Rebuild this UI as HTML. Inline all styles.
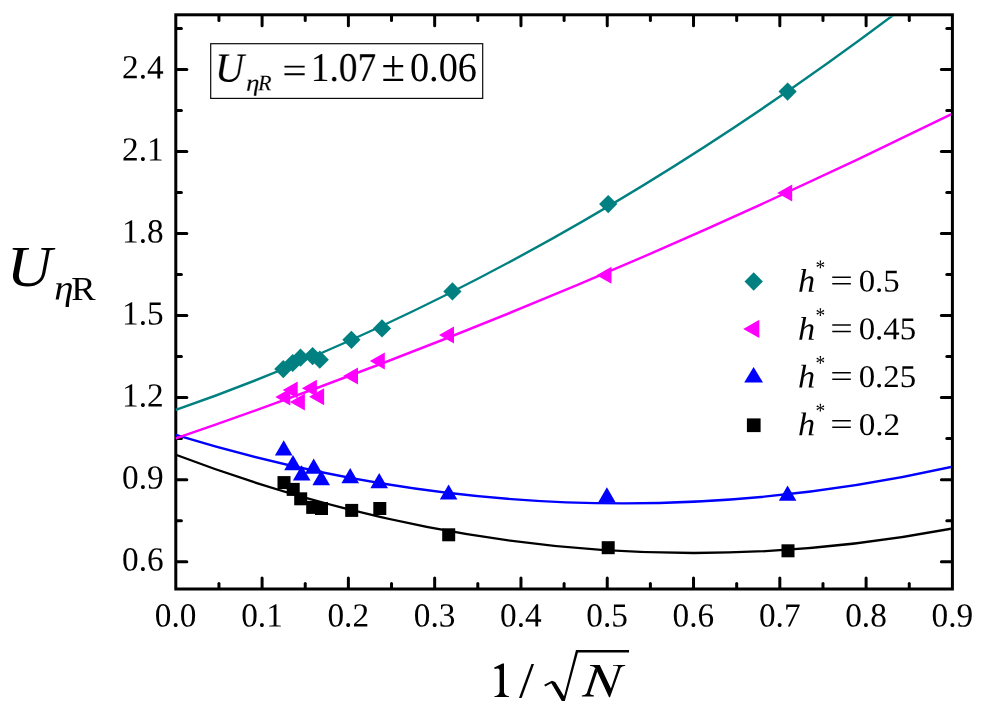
<!DOCTYPE html>
<html><head><meta charset="utf-8"><title>chart</title>
<style>html,body{margin:0;padding:0;background:#fff;overflow:hidden;}svg{display:block;position:absolute;left:0;top:0;font-family:"Liberation Serif",serif;}text{font-family:"Liberation Serif",serif;fill:#000;}.tx{filter:grayscale(1);}</style></head><body>
<svg width="986" height="722" viewBox="0 0 986 722">
<rect width="986" height="722" fill="#fff"/>
<rect x="175.8" y="14.8" width="776.60" height="574.20" fill="none" stroke="#000" stroke-width="3.0" stroke-linejoin="miter"/>
<g stroke="#000" stroke-width="3.0" stroke-linecap="round">
<line x1="218.94" y1="588.4" x2="218.94" y2="583.4"/>
<line x1="218.94" y1="15.4" x2="218.94" y2="20.4"/>
<line x1="262.09" y1="588.4" x2="262.09" y2="578.0"/>
<line x1="262.09" y1="15.4" x2="262.09" y2="25.8"/>
<line x1="305.23" y1="588.4" x2="305.23" y2="583.4"/>
<line x1="305.23" y1="15.4" x2="305.23" y2="20.4"/>
<line x1="348.38" y1="588.4" x2="348.38" y2="578.0"/>
<line x1="348.38" y1="15.4" x2="348.38" y2="25.8"/>
<line x1="391.52" y1="588.4" x2="391.52" y2="583.4"/>
<line x1="391.52" y1="15.4" x2="391.52" y2="20.4"/>
<line x1="434.67" y1="588.4" x2="434.67" y2="578.0"/>
<line x1="434.67" y1="15.4" x2="434.67" y2="25.8"/>
<line x1="477.81" y1="588.4" x2="477.81" y2="583.4"/>
<line x1="477.81" y1="15.4" x2="477.81" y2="20.4"/>
<line x1="520.96" y1="588.4" x2="520.96" y2="578.0"/>
<line x1="520.96" y1="15.4" x2="520.96" y2="25.8"/>
<line x1="564.10" y1="588.4" x2="564.10" y2="583.4"/>
<line x1="564.10" y1="15.4" x2="564.10" y2="20.4"/>
<line x1="607.24" y1="588.4" x2="607.24" y2="578.0"/>
<line x1="607.24" y1="15.4" x2="607.24" y2="25.8"/>
<line x1="650.39" y1="588.4" x2="650.39" y2="583.4"/>
<line x1="650.39" y1="15.4" x2="650.39" y2="20.4"/>
<line x1="693.53" y1="588.4" x2="693.53" y2="578.0"/>
<line x1="693.53" y1="15.4" x2="693.53" y2="25.8"/>
<line x1="736.68" y1="588.4" x2="736.68" y2="583.4"/>
<line x1="736.68" y1="15.4" x2="736.68" y2="20.4"/>
<line x1="779.82" y1="588.4" x2="779.82" y2="578.0"/>
<line x1="779.82" y1="15.4" x2="779.82" y2="25.8"/>
<line x1="822.97" y1="588.4" x2="822.97" y2="583.4"/>
<line x1="822.97" y1="15.4" x2="822.97" y2="20.4"/>
<line x1="866.11" y1="588.4" x2="866.11" y2="578.0"/>
<line x1="866.11" y1="15.4" x2="866.11" y2="25.8"/>
<line x1="909.26" y1="588.4" x2="909.26" y2="583.4"/>
<line x1="909.26" y1="15.4" x2="909.26" y2="20.4"/>
<line x1="176.4" y1="561.66" x2="186.8" y2="561.66"/>
<line x1="951.8" y1="561.66" x2="941.4" y2="561.66"/>
<line x1="176.4" y1="520.64" x2="181.4" y2="520.64"/>
<line x1="951.8" y1="520.64" x2="946.8" y2="520.64"/>
<line x1="176.4" y1="479.63" x2="186.8" y2="479.63"/>
<line x1="951.8" y1="479.63" x2="941.4" y2="479.63"/>
<line x1="176.4" y1="438.61" x2="181.4" y2="438.61"/>
<line x1="951.8" y1="438.61" x2="946.8" y2="438.61"/>
<line x1="176.4" y1="397.60" x2="186.8" y2="397.60"/>
<line x1="951.8" y1="397.60" x2="941.4" y2="397.60"/>
<line x1="176.4" y1="356.59" x2="181.4" y2="356.59"/>
<line x1="951.8" y1="356.59" x2="946.8" y2="356.59"/>
<line x1="176.4" y1="315.57" x2="186.8" y2="315.57"/>
<line x1="951.8" y1="315.57" x2="941.4" y2="315.57"/>
<line x1="176.4" y1="274.56" x2="181.4" y2="274.56"/>
<line x1="951.8" y1="274.56" x2="946.8" y2="274.56"/>
<line x1="176.4" y1="233.54" x2="186.8" y2="233.54"/>
<line x1="951.8" y1="233.54" x2="941.4" y2="233.54"/>
<line x1="176.4" y1="192.53" x2="181.4" y2="192.53"/>
<line x1="951.8" y1="192.53" x2="946.8" y2="192.53"/>
<line x1="176.4" y1="151.51" x2="186.8" y2="151.51"/>
<line x1="951.8" y1="151.51" x2="941.4" y2="151.51"/>
<line x1="176.4" y1="110.50" x2="181.4" y2="110.50"/>
<line x1="951.8" y1="110.50" x2="946.8" y2="110.50"/>
<line x1="176.4" y1="69.49" x2="186.8" y2="69.49"/>
<line x1="951.8" y1="69.49" x2="941.4" y2="69.49"/>
<line x1="176.4" y1="28.47" x2="181.4" y2="28.47"/>
<line x1="951.8" y1="28.47" x2="946.8" y2="28.47"/>
</g>
<defs><clipPath id="cp"><rect x="174.80" y="16.30" width="776.10" height="572.70"/></clipPath></defs>
<g clip-path="url(#cp)" fill="none" stroke-linecap="butt" stroke-linejoin="round">
<path d="M175.80,454.75 Q564.10,602.03 952.40,528.50" stroke="#000000" stroke-width="2.3"/>
<path d="M175.80,434.90 Q564.10,553.57 952.40,466.71" stroke="#0000ff" stroke-width="2.3"/>
<path d="M175.80,438.37 Q564.10,304.97 952.40,113.76" stroke="#ff00ff" stroke-width="2.4"/>
<path d="M175.80,409.99 Q564.10,273.95 952.40,-30.28" stroke="#008080" stroke-width="2.4"/>
</g>
<g>
<rect x="277.5" y="476.1" width="13.0" height="13.0" fill="#000"/>
<rect x="286.7" y="482.9" width="13.0" height="13.0" fill="#000"/>
<rect x="294.2" y="492.3" width="13.0" height="13.0" fill="#000"/>
<rect x="306.2" y="500.9" width="13.0" height="13.0" fill="#000"/>
<rect x="315.0" y="502.0" width="13.0" height="13.0" fill="#000"/>
<rect x="345.2" y="503.9" width="13.0" height="13.0" fill="#000"/>
<rect x="373.3" y="502.0" width="13.0" height="13.0" fill="#000"/>
<rect x="442.2" y="528.3" width="13.0" height="13.0" fill="#000"/>
<rect x="601.7" y="541.2" width="13.0" height="13.0" fill="#000"/>
<rect x="781.5" y="544.3" width="13.0" height="13.0" fill="#000"/>
<polygon points="283.7,440.2 292.5,455.4 274.9,455.4" fill="#0000ff"/>
<polygon points="293.0,455.0 301.8,470.2 284.2,470.2" fill="#0000ff"/>
<polygon points="301.7,465.2 310.5,480.4 292.9,480.4" fill="#0000ff"/>
<polygon points="313.7,458.5 322.5,473.7 304.9,473.7" fill="#0000ff"/>
<polygon points="321.2,470.0 330.0,485.2 312.4,485.2" fill="#0000ff"/>
<polygon points="350.2,468.0 359.0,483.2 341.4,483.2" fill="#0000ff"/>
<polygon points="379.2,473.1 388.0,488.3 370.4,488.3" fill="#0000ff"/>
<polygon points="448.6,484.4 457.4,499.6 439.8,499.6" fill="#0000ff"/>
<polygon points="606.9,487.2 615.7,502.4 598.1,502.4" fill="#0000ff"/>
<polygon points="787.6,485.6 796.4,500.8 778.8,500.8" fill="#0000ff"/>
<polygon points="275.3,397.1 290.3,388.6 290.3,405.6" fill="#ff00ff"/>
<polygon points="282.7,389.9 297.7,381.4 297.7,398.4" fill="#ff00ff"/>
<polygon points="289.9,402.0 304.9,393.5 304.9,410.5" fill="#ff00ff"/>
<polygon points="301.9,388.2 316.9,379.7 316.9,396.7" fill="#ff00ff"/>
<polygon points="309.1,396.7 324.1,388.2 324.1,405.2" fill="#ff00ff"/>
<polygon points="343.0,375.9 358.0,367.4 358.0,384.4" fill="#ff00ff"/>
<polygon points="369.8,361.0 384.8,352.5 384.8,369.5" fill="#ff00ff"/>
<polygon points="439.0,335.1 454.0,326.6 454.0,343.6" fill="#ff00ff"/>
<polygon points="596.5,275.2 611.5,266.7 611.5,283.7" fill="#ff00ff"/>
<polygon points="777.2,192.9 792.2,184.4 792.2,201.4" fill="#ff00ff"/>
<polygon points="274.2,369.1 283.3,360.0 292.4,369.1 283.3,378.2" fill="#008080"/>
<polygon points="283.6,363.0 292.7,353.9 301.8,363.0 292.7,372.1" fill="#008080"/>
<polygon points="291.4,357.7 300.5,348.6 309.6,357.7 300.5,366.8" fill="#008080"/>
<polygon points="303.5,356.1 312.6,347.0 321.7,356.1 312.6,365.2" fill="#008080"/>
<polygon points="310.7,359.7 319.8,350.6 328.9,359.7 319.8,368.8" fill="#008080"/>
<polygon points="342.3,339.8 351.4,330.7 360.5,339.8 351.4,348.9" fill="#008080"/>
<polygon points="372.9,328.4 382.0,319.3 391.1,328.4 382.0,337.5" fill="#008080"/>
<polygon points="443.3,291.4 452.4,282.3 461.5,291.4 452.4,300.5" fill="#008080"/>
<polygon points="599.1,204.1 608.2,195.0 617.3,204.1 608.2,213.2" fill="#008080"/>
<polygon points="778.5,91.6 787.6,82.5 796.7,91.6 787.6,100.7" fill="#008080"/>
</g>
<g class="tx">
<g font-size="200" text-anchor="middle">
<text transform="matrix(0.1667 0.0001 0 0.1685 175.70 626.5)">0.0</text>
<text transform="matrix(0.1667 0.0001 0 0.1685 261.99 626.5)">0.1</text>
<text transform="matrix(0.1667 0.0001 0 0.1685 348.28 626.5)">0.2</text>
<text transform="matrix(0.1667 0.0001 0 0.1685 434.57 626.5)">0.3</text>
<text transform="matrix(0.1667 0.0001 0 0.1685 520.86 626.5)">0.4</text>
<text transform="matrix(0.1667 0.0001 0 0.1685 607.14 626.5)">0.5</text>
<text transform="matrix(0.1667 0.0001 0 0.1685 693.43 626.5)">0.6</text>
<text transform="matrix(0.1667 0.0001 0 0.1685 779.72 626.5)">0.7</text>
<text transform="matrix(0.1667 0.0001 0 0.1685 866.01 626.5)">0.8</text>
<text transform="matrix(0.1667 0.0001 0 0.1685 952.30 626.5)">0.9</text>
</g>
<g font-size="200" text-anchor="end">
<text transform="matrix(0.1667 0.0001 0 0.1685 163.7 570.56)">0.6</text>
<text transform="matrix(0.1667 0.0001 0 0.1685 163.7 488.53)">0.9</text>
<text transform="matrix(0.1667 0.0001 0 0.1685 163.7 406.50)">1.2</text>
<text transform="matrix(0.1667 0.0001 0 0.1685 163.7 324.47)">1.5</text>
<text transform="matrix(0.1667 0.0001 0 0.1685 163.7 242.44)">1.8</text>
<text transform="matrix(0.1667 0.0001 0 0.1685 163.7 160.41)">2.1</text>
<text transform="matrix(0.1667 0.0001 0 0.1685 163.7 78.39)">2.4</text>
</g>
<rect x="210.7" y="43.7" width="272.0" height="54.7" fill="#fff" stroke="#0a0a0a" stroke-width="1.2"/>
<text transform="matrix(0.20147 0.0001 0 0.20682 214.97 81.49)" font-size="200" font-style="italic" fill="#000">U</text>
<text transform="matrix(0.13571 0.0001 0 0.11912 245.95 90.80)" font-size="200" font-style="italic" fill="#000">&#951;</text>
<text transform="matrix(0.11000 0.0001 0 0.11077 257.91 90.30)" font-size="200" font-style="italic" fill="#000">R</text>
<text transform="matrix(0.21720 0.0001 0 0.19000 282.33 83.09)" font-size="200" fill="#000">=</text>
<text transform="matrix(0.18666 0.0001 0 0.20441 310.84 80.89)" font-size="200" fill="#000">1.07</text>
<text transform="matrix(0.21398 0.0001 0 0.22589 381.59 81.10)" font-size="200" fill="#000">&#177;</text>
<text transform="matrix(0.19137 0.0001 0 0.20588 409.97 80.98)" font-size="200" fill="#000">0.06</text>
<text transform="matrix(0.17176 0.0001 0 0.16423 798.10 291.86)" font-size="200" font-style="italic" fill="#000">h</text>
<text transform="matrix(0.09750 0.0001 0 0.10685 815.62 274.39)" font-size="200" fill="#000">*</text>
<text transform="matrix(0.20000 0.0001 0 0.16200 830.30 291.24)" font-size="200" fill="#000">=</text>
<text transform="matrix(0.16410 0.0001 0 0.15772 858.69 291.48)" font-size="200" fill="#000">0.5</text>
<text transform="matrix(0.17176 0.0001 0 0.16423 798.10 339.66)" font-size="200" font-style="italic" fill="#000">h</text>
<text transform="matrix(0.09750 0.0001 0 0.10685 815.62 322.19)" font-size="200" fill="#000">*</text>
<text transform="matrix(0.20000 0.0001 0 0.16200 830.30 339.04)" font-size="200" fill="#000">=</text>
<text transform="matrix(0.16407 0.0001 0 0.15772 858.69 339.28)" font-size="200" fill="#000">0.45</text>
<text transform="matrix(0.17176 0.0001 0 0.16423 798.10 387.46)" font-size="200" font-style="italic" fill="#000">h</text>
<text transform="matrix(0.09750 0.0001 0 0.10685 815.62 369.99)" font-size="200" fill="#000">*</text>
<text transform="matrix(0.20000 0.0001 0 0.16200 830.30 386.84)" font-size="200" fill="#000">=</text>
<text transform="matrix(0.16407 0.0001 0 0.15772 858.69 387.08)" font-size="200" fill="#000">0.25</text>
<text transform="matrix(0.17176 0.0001 0 0.16423 798.10 435.26)" font-size="200" font-style="italic" fill="#000">h</text>
<text transform="matrix(0.09750 0.0001 0 0.10685 815.62 417.79)" font-size="200" fill="#000">*</text>
<text transform="matrix(0.20000 0.0001 0 0.16200 830.30 434.64)" font-size="200" fill="#000">=</text>
<text transform="matrix(0.16623 0.0001 0 0.15772 858.67 434.88)" font-size="200" fill="#000">0.2</text>
<text transform="matrix(0.31324 0.0001 0 0.28561 6.85 285.93)" font-size="200" font-style="italic" fill="#000">U</text>
<text transform="matrix(0.19405 0.0001 0 0.17574 54.34 299.62)" font-size="200" font-style="italic" fill="#000">&#951;</text>
<text transform="matrix(0.18268 0.0001 0 0.16769 71.20 300.00)" font-size="200" fill="#000">R</text>
<path transform="matrix(0.16227 0 0 0.16227 485 640)" d="M57,170 L108,145 L117,145 L117,318 Q117,344 148,346 L148,352 L58,352 L58,346 Q90,344 90,318 L90,190 Q90,175 78,175 Q69,175 59,179 Z" fill="#000"/>
<text transform="matrix(0.27091 0.0001 0 0.25263 519.10 696.59)" font-size="200" fill="#000">/</text>
<g transform="matrix(0.058173 0 0 0.058173 578 660)" fill="#000"><path d="M205,86 L374,86 L566,492 L688,128 Q698,104 655,99 L602,97 L602,86 L812,86 L812,97 Q748,102 732,132 L550,642 L534,642 L322,182 L300,140 Q272,104 205,99 Z"/><path d="M296,138 L334,190 L207,572 Q199,601 272,606 L272,628 L66,628 L66,611 Q132,606 152,572 Z"/></g>
<path d="M544.26,684.76 L551.97,680.70 L555.21,682.02 L564.04,696.22 L576.00,650.07 L629.05,650.07 L629.05,652.61 L577.93,652.61 L564.85,700.98 L561.81,700.98 L551.36,683.34 L545.07,686.58 Z" fill="#000"/>
</g>
<polygon points="744.5,281.5 753.7,272.3 762.9,281.5 753.7,290.7" fill="#008080"/>
<polygon points="743.2,328.9 759.3,319.8 759.3,338.0" fill="#ff00ff"/>
<polygon points="753.6,367.0 763.0,382.5 744.2,382.5" fill="#0000ff"/>
<rect x="746.9" y="418.4" width="13.7" height="13.7" fill="#000"/>
</svg></body></html>
